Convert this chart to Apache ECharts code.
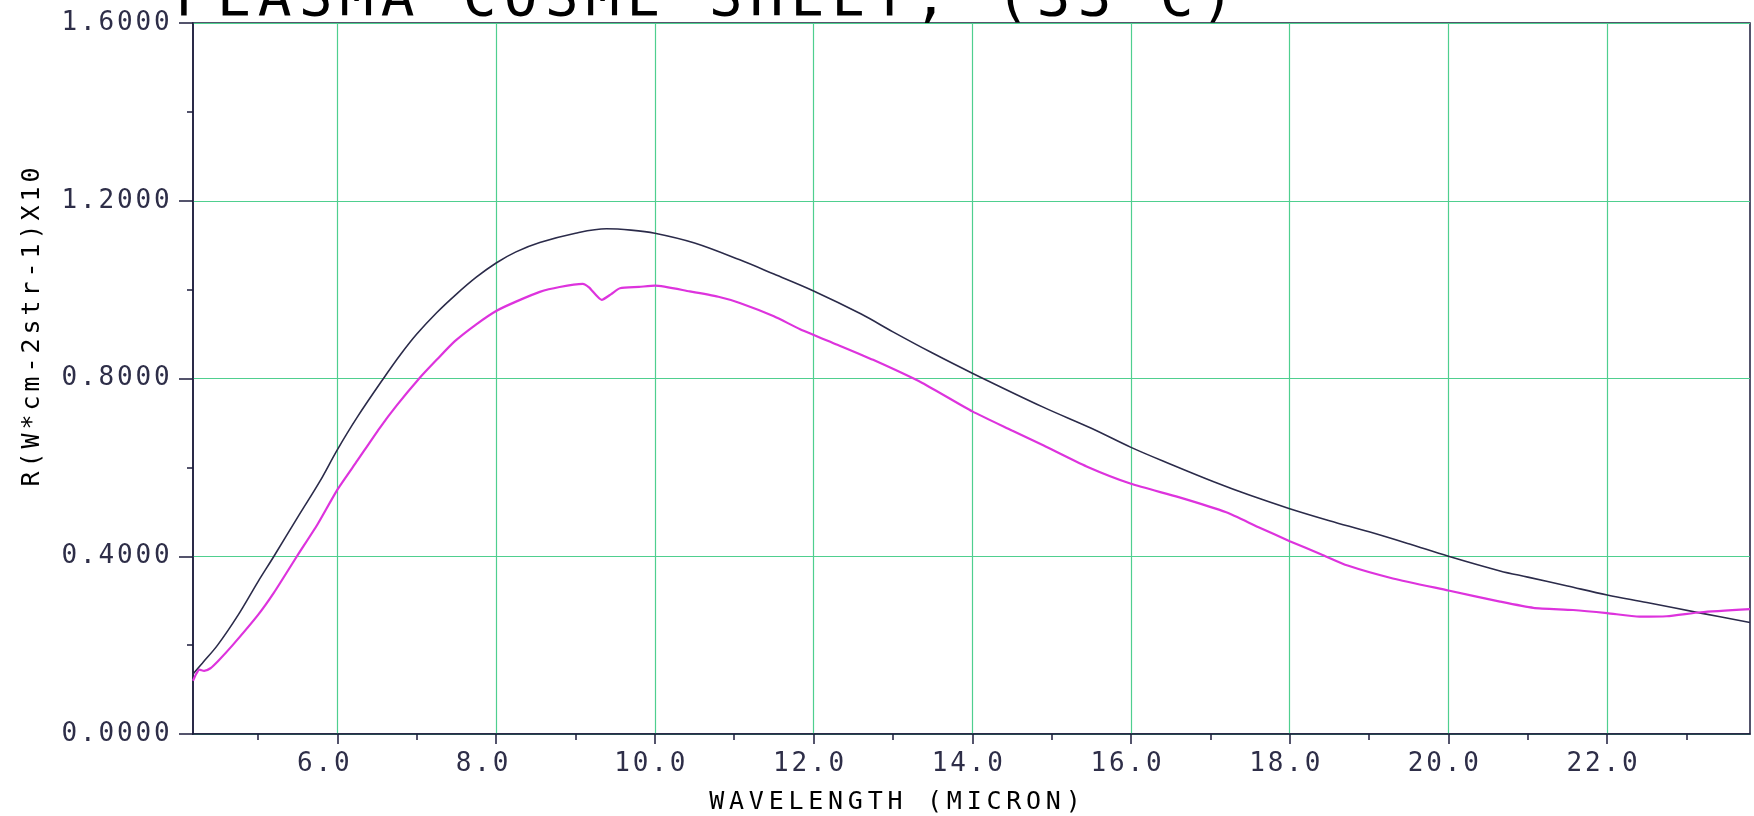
<!DOCTYPE html>
<html><head><meta charset="utf-8">
<script src="https://cdn.jsdelivr.net/npm/echarts@6/dist/echarts.min.js"></script>
<style>html,body{margin:0;padding:0;background:#ffffff}#c{width:1754px;height:816px}</style>
</head><body><div id="c"></div>
<script>
// ---- text ----
const titleText = 'PLASMA COSME SHEET, (33°C)';
const xAxisName = 'WAVELENGTH (MICRON)';
const yAxisName = 'R(W*cm-2str-1)X10';
// ---- axis ticks ----
const xMajorTicks = [6, 8, 10, 12, 14, 16, 18, 20, 22];
const xMinorTicks = [5, 7, 9, 11, 13, 15, 17, 19, 21, 23];
const xMin = 4.18, xMax = 23.8;
const yMin = 0, yMax = 1.6, yMajorStep = 0.4, yMinorStep = 0.2;
// ---- upper (dark) curve ----
const darkX = [4.18, 4.3, 4.49, 4.75, 5.0, 5.2, 5.5, 5.78, 6.0, 6.25, 6.58, 6.8, 7.0, 7.25, 7.5, 7.75, 8.0, 8.25, 8.55, 9.0, 9.39, 9.7, 10.0, 10.5, 11.07, 11.5, 12.0, 12.6, 13.0, 13.48, 14.0, 14.9, 15.5, 16.0, 16.5, 17.05, 17.5, 18.0, 18.5, 19.0, 19.5, 20.0, 20.65, 21.0, 21.5, 22.0, 22.5, 23.18, 23.8];
const darkY = [0.135, 0.16, 0.2, 0.268, 0.343, 0.4, 0.488, 0.569, 0.64, 0.713, 0.8, 0.855, 0.9, 0.948, 0.99, 1.028, 1.06, 1.085, 1.106, 1.127, 1.137, 1.134, 1.127, 1.105, 1.067, 1.035, 0.997, 0.945, 0.905, 0.859, 0.812, 0.735, 0.688, 0.645, 0.607, 0.567, 0.537, 0.507, 0.48, 0.455, 0.428, 0.4, 0.367, 0.353, 0.333, 0.313, 0.296, 0.272, 0.251];
// ---- lower (magenta) curve ----
const magentaX = [4.18, 4.22, 4.26, 4.32, 4.4, 4.5, 4.68, 5.0, 5.2, 5.49, 5.75, 6.0, 6.25, 6.53, 6.75, 7.03, 7.25, 7.48, 7.75, 8.0, 8.25, 8.55, 8.8, 9.09, 9.17, 9.33, 9.45, 9.56, 9.8, 10.0, 10.44, 10.8, 11.07, 11.5, 11.83, 12.3, 12.75, 13.37, 14.0, 14.5, 14.9, 15.44, 16.0, 16.6, 17.2, 17.6, 18.0, 18.4, 18.73, 19.3, 20.0, 20.65, 21.07, 21.57, 22.0, 22.41, 22.75, 23.18, 23.8];
const magentaY = [0.12, 0.135, 0.145, 0.142, 0.148, 0.165, 0.2, 0.268, 0.318, 0.4, 0.472, 0.55, 0.615, 0.688, 0.74, 0.8, 0.842, 0.884, 0.922, 0.952, 0.973, 0.995, 1.006, 1.013, 1.005, 0.977, 0.99, 1.003, 1.006, 1.009, 0.996, 0.984, 0.97, 0.94, 0.911, 0.876, 0.842, 0.79, 0.726, 0.683, 0.649, 0.602, 0.563, 0.533, 0.499, 0.466, 0.434, 0.404, 0.379, 0.35, 0.323, 0.298, 0.284, 0.279, 0.272, 0.264, 0.265, 0.274, 0.281];

const INK = '#2e2e48', GRID = '#4fcf8f', AXIS = '#1c1c3c';
const FONT = 'DejaVu Sans Mono';
function cells(s, k) { return s.split('').map(ch => '{' + k + '|' + ch + '}').join(''); }
const cellStyle = (w, fs) => ({ width: w, align: 'center', fontSize: fs, lineHeight: fs, fontFamily: FONT, color: INK });

const chart = echarts.init(document.getElementById('c'), null, { renderer: 'canvas' });
const zip = (xs, ys) => xs.map((x, i) => [x, ys[i]]);

chart.setOption({
  backgroundColor: '#ffffff',
  animation: false,
  grid: { left: 193, right: 4, top: 23, bottom: 82, show: true, borderColor: AXIS, borderWidth: 1.5, backgroundColor: 'transparent' },
  xAxis: [
    {
      type: 'value', min: xMin, max: xMax, position: 'bottom',
      axisLine: { show: true, onZero: false, lineStyle: { color: AXIS, width: 1.5 } },
      axisTick: { show: true, customValues: xMajorTicks, length: 10, lineStyle: { color: AXIS, width: 1.5 } },
      axisLabel: {
        show: true, customValues: xMajorTicks, margin: 17,
        formatter: v => { const s = v.toFixed(1); return cells(s, 'c') + (s.length === 3 ? '{p3|}' : '{p4|}'); },
        rich: { c: cellStyle(18.5, 26), p3: { width: 28 }, p4: { width: 10 } }
      },
      splitLine: { show: true, lineStyle: { color: GRID, width: 1.2 } }
    },
    {
      type: 'value', min: xMin, max: xMax, position: 'bottom',
      axisLine: { show: false, onZero: false },
      axisTick: { show: true, customValues: xMinorTicks, length: 6, lineStyle: { color: AXIS, width: 1.5 } },
      axisLabel: { show: false },
      splitLine: { show: false }
    }
  ],
  yAxis: [
    {
      type: 'value', min: yMin, max: yMax, interval: yMajorStep, position: 'left',
      axisLine: { show: true, onZero: false, lineStyle: { color: AXIS, width: 1.5 } },
      axisTick: { show: true, length: 14, lineStyle: { color: AXIS, width: 1.5 } },
      axisLabel: {
        margin: 22,
        formatter: v => cells(v.toFixed(4), 'c'),
        rich: { c: cellStyle(18.5, 26) }
      },
      splitLine: { show: true, lineStyle: { color: GRID, width: 1.2 } }
    },
    {
      type: 'value', min: yMin, max: yMax, interval: yMinorStep, position: 'left',
      axisLine: { show: false, onZero: false },
      axisTick: { show: true, length: 6, lineStyle: { color: AXIS, width: 1.5 } },
      axisLabel: { show: false },
      splitLine: { show: false }
    }
  ],
  graphic: [
    { type: 'text', x: 172, y: 0, silent: true,
      style: { text: cells(titleText, 't'), rich: { t: cellStyle(41, 56) }, verticalAlign: 'middle', align: 'left' } },
    { type: 'text', x: 895, y: 802, silent: true,
      style: { text: cells(xAxisName, 'n'), rich: { n: cellStyle(19.8, 25) }, verticalAlign: 'middle', align: 'center' } },
    { type: 'text', x: 32, y: 327, rotation: Math.PI / 2, silent: true,
      style: { text: cells(yAxisName, 'n'), rich: { n: cellStyle(19, 25) }, verticalAlign: 'middle', align: 'center' } }
  ],
  series: [
    { type: 'line', name: 'dark', xAxisIndex: 0, yAxisIndex: 0, data: zip(darkX, darkY), showSymbol: false, smooth: 0.35,
      lineStyle: { color: '#2b2b4a', width: 1.6 }, z: 3 },
    { type: 'line', name: 'magenta', xAxisIndex: 0, yAxisIndex: 0, data: zip(magentaX, magentaY), showSymbol: false, smooth: 0.2,
      lineStyle: { color: '#dd33dd', width: 2.2 }, z: 4 }
  ]
});
</script></body></html>
